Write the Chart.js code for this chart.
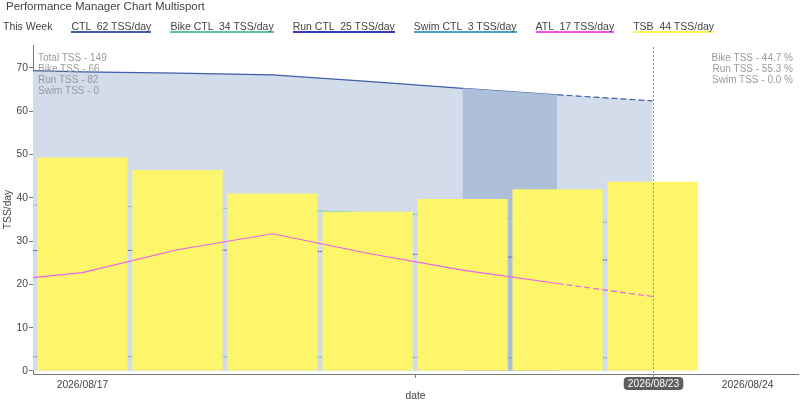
<!DOCTYPE html>
<html>
<head>
<meta charset="utf-8">
<script src="https://cdn.jsdelivr.net/npm/chart.js@4.4.1/dist/chart.umd.min.js"></script>
<style>
    body { margin: 0; background: #fff; font-family: "Liberation Sans", Arial, sans-serif; }
    #wrap { position: relative; width: 800px; height: 405px; overflow: hidden; }
    #c { position: absolute; left: 0; top: 0; }
    #title { position: absolute; left: 6px; top: 0; font-size: 11.5px; line-height: 13px; color: #444; white-space: pre; }
    #legend { position: absolute; left: 3px; top: 20.7px; display: flex; column-gap: 19px; }
    #legend span { display: inline-block; font-size: 10.5px; line-height: 10px; color: #444; white-space: pre; border-bottom: 2px solid transparent; }
    .note { position: absolute; top: 51.9px; font-size: 10px; line-height: 11.1px; color: #9a9a9a; white-space: pre; }
    #noteL { left: 38px; }
    #noteR { right: 7px; text-align: right; }
</style>
</head>
<body>
<div id="wrap">
    <canvas id="c" width="800" height="405"></canvas>
    <div id="title">Performance Manager Chart Multisport</div>
    <div id="legend"></div>
    <div class="note" id="noteL"></div>
    <div class="note" id="noteR"></div>
</div>
<script>
// days counted from 2026/08/17
const days = [-1, 0, 1, 2, 3, 4, 5, 6];
const ctl = [69.6, 69.1, 68.8, 68.4, 66.9, 65.3, 63.8, 62.4];
const bikeCtl = [38.4, 38.2, 37.8, 37.3, 36.6, 35.7, 34.8, 33.9];
const runCtl = [27.8, 27.8, 27.9, 27.9, 27.3, 26.6, 26.0, 25.3];
const swimCtl = [3.3, 3.3, 3.3, 3.2, 3.2, 3.1, 3.1, 3.0];
const atl = [20.5, 22.7, 28.0, 31.7, 27.2, 23.3, 20.2, 17.2];

const tsbDays = [0, 1, 2, 3, 4, 5, 6];
const tsb = [49.3, 46.4, 41.0, 36.8, 39.7, 42.0, 43.7];

const highlightDays = [4, 5];
const dashFromDay = 5;

const xTickDays = [0, 7];
const xTickLabels = ['2026/08/17', '2026/08/24'];
const todayDay = 6;
const todayLabel = '2026/08/23';
const yTicks = [0, 10, 20, 30, 40, 50, 60, 70];

const legendNames = ['CTL', 'Bike CTL', 'Run CTL', 'Swim CTL', 'ATL', 'TSB'];
const legendValues = [62, 34, 25, 3, 17, 44];
const legendColors = ['#3f5dab', '#5cc49e', '#3a3ac8', '#4ba0c8', '#ee55ee', '#fff35a'];

const notesLeft = ['Total TSS - 149', 'Bike TSS - 66', 'Run TSS - 82', 'Swim TSS - 0'];
const notesRight = ['Bike TSS - 44.7 %', 'Run TSS - 55.3 %', 'Swim TSS - 0.0 %'];

const FONT = '"Liberation Sans", Arial, sans-serif';

// header + notes
const legendDiv = document.getElementById('legend');
var first = document.createElement('span');
first.textContent = 'This Week';
legendDiv.appendChild(first);
legendNames.forEach(function (name, i) {
    var s = document.createElement('span');
    s.textContent = name + '  ' + legendValues[i] + ' TSS/day';
    s.style.borderBottomColor = legendColors[i];
    legendDiv.appendChild(s);
});
document.getElementById('noteL').textContent = notesLeft.join('\n');
document.getElementById('noteR').textContent = notesRight.join('\n');

function pts(xs, ys) {
    return xs.map((x, i) => ({x: x, y: ys[i]}));
}

const dashLater = {
    borderDash: ctx => ctx.p0.parsed.x >= dashFromDay ? [6, 3] : undefined
};

const todayMarker = {
    id: 'todayMarker',
    afterDraw(chart) {
        const ctx = chart.ctx;
        const area = chart.chartArea;
        const x = Math.round(chart.scales.x.getPixelForValue(todayDay)) + 0.5;
        ctx.save();
        ctx.strokeStyle = '#999';
        ctx.lineWidth = 1;
        ctx.setLineDash([2, 2]);
        ctx.beginPath();
        ctx.moveTo(x, area.top + 2);
        ctx.lineTo(x, area.bottom + 3);
        ctx.stroke();
        ctx.setLineDash([]);

        ctx.font = '10.3px ' + FONT;
        const w = ctx.measureText(todayLabel).width + 8;
        const h = 13;
        const y = area.bottom + 3;
        ctx.fillStyle = '#5e5e5e';
        ctx.beginPath();
        ctx.roundRect(x - w / 2, y, w, h, 4);
        ctx.fill();
        ctx.fillStyle = '#fff';
        ctx.textAlign = 'center';
        ctx.textBaseline = 'middle';
        ctx.fillText(todayLabel, x, y + h / 2 + 0.5);
        ctx.restore();
    }
};

new Chart(document.getElementById('c'), {
    data: {
        datasets: [
            {
                type: 'line',
                label: 'ATL',
                data: pts(days, atl),
                borderColor: '#e860e8',
                borderWidth: 1.2,
                pointRadius: 0,
                segment: dashLater,
                order: 0
            },
            {
                type: 'bar',
                label: 'TSB',
                data: pts(tsbDays, tsb),
                backgroundColor: '#fdf66b',
                barPercentage: 0.95,
                categoryPercentage: 1,
                order: 1
            },
            {
                type: 'line',
                label: 'Bike CTL',
                data: pts(days, bikeCtl),
                borderColor: '#5cc49e',
                borderWidth: 1,
                borderDash: [2, 1],
                pointRadius: 0,
                order: 2
            },
            {
                type: 'line',
                label: 'Run CTL',
                data: pts(days, runCtl),
                borderColor: '#3a3ac8',
                borderWidth: 1,
                borderDash: [2, 1],
                pointRadius: 0,
                order: 3
            },
            {
                type: 'line',
                label: 'Swim CTL',
                data: pts(days, swimCtl),
                borderColor: '#4ba0c8',
                borderWidth: 1,
                borderDash: [2, 1],
                pointRadius: 0,
                order: 4
            },
            {
                type: 'line',
                label: 'highlight',
                data: highlightDays.map(d => ({x: d, y: ctl[days.indexOf(d)]})),
                borderWidth: 0,
                backgroundColor: '#adbfd9',
                fill: 'origin',
                pointRadius: 0,
                order: 5
            },
            {
                type: 'line',
                label: 'CTL',
                data: pts(days, ctl),
                borderColor: '#3f5dab',
                borderWidth: 1.2,
                backgroundColor: '#d2dcea',
                fill: 'origin',
                pointRadius: 0,
                segment: dashLater,
                order: 6
            }
        ]
    },
    options: {
        responsive: false,
        animation: false,
        events: [],
        layout: { padding: { top: 45, right: 2, left: 0, bottom: 0 } },
        plugins: {
            legend: { display: false },
            tooltip: { enabled: false }
        },
        scales: {
            x: {
                type: 'linear',
                min: -0.52,
                max: 7.53,
                offset: false,
                afterFit: s => { s.height = 31; },
                afterBuildTicks: s => { s.ticks = xTickDays.map(v => ({value: v})); },
                ticks: {
                    callback: v => xTickLabels[xTickDays.indexOf(v)],
                    color: '#444',
                    font: { family: FONT, size: 10.3 },
                    padding: 1,
                    maxRotation: 0,
                    autoSkip: false
                },
                grid: { drawOnChartArea: false, drawTicks: true, tickLength: 4, color: '#777' },
                border: { color: '#777' },
                title: {
                    display: true,
                    text: 'date',
                    color: '#444',
                    font: { family: FONT, size: 10.3 },
                    padding: { top: 0, bottom: 2.5 }
                }
            },
            y: {
                type: 'linear',
                min: -0.7,
                max: 75.3,
                afterFit: s => { s.width = 33; },
                afterBuildTicks: s => { s.ticks = yTicks.map(v => ({value: v})); },
                ticks: {
                    color: '#444',
                    font: { family: FONT, size: 10.3 },
                    padding: 1
                },
                grid: { drawOnChartArea: false, drawTicks: true, tickLength: 4, color: '#777' },
                border: { color: '#777' },
                title: {
                    display: true,
                    text: 'TSS/day',
                    color: '#444',
                    font: { family: FONT, size: 10.3 },
                    padding: { top: 2, bottom: 0 }
                }
            }
        }
    },
    plugins: [todayMarker]
});
</script>
</body>
</html>
